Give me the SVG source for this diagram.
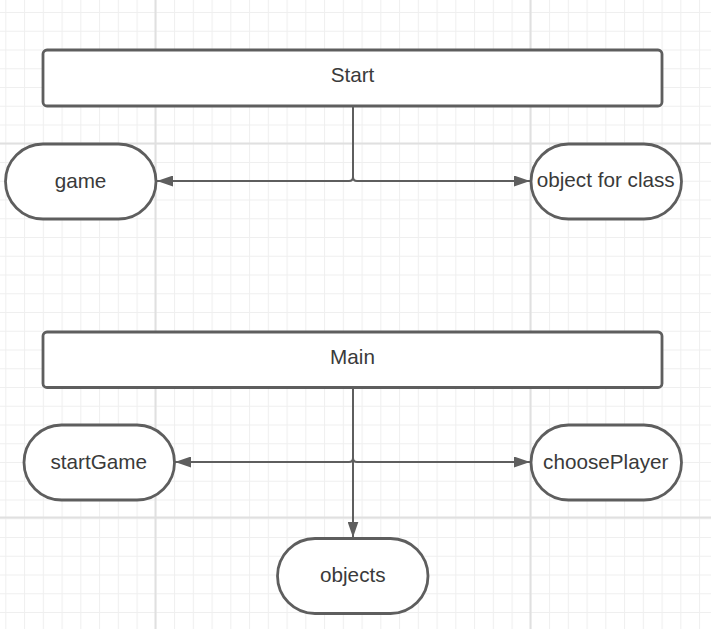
<svg xmlns="http://www.w3.org/2000/svg" width="711" height="629" viewBox="0 0 711 629">
  <style>
    .node { fill: #ffffff; stroke: #5e5e5e; stroke-width: 2.8; }
    .label { font-family: "Liberation Sans", Arial, sans-serif; font-size: 20.7px; fill: #3a3a3a; text-anchor: middle; }
    .conn { fill: none; stroke: #5e5e5e; stroke-width: 2; }
    .major { stroke: #e0e0e0; stroke-width: 2; }
  </style>
  <defs>
    <pattern id="grid" patternUnits="userSpaceOnUse" x="5.3" y="12" width="18.75" height="18.75">
      <path d="M0.5 0 V18.75 M0 0.5 H18.75" stroke="#efefef" stroke-width="1.2" fill="none"/>
    </pattern>
    <marker id="arrow" viewBox="0 0 16 11" refX="16" refY="5.5" markerWidth="16" markerHeight="11" markerUnits="userSpaceOnUse" orient="auto">
      <path d="M0 0 L16 5.5 L0 11 Z" fill="#5e5e5e"/>
    </marker>
  </defs>

  <rect width="711" height="629" fill="#ffffff"/>
  <rect width="711" height="629" fill="url(#grid)"/>
  <g id="grid-major">
    <line class="major" x1="155.5" y1="0" x2="155.5" y2="629"/>
    <line class="major" x1="530.5" y1="0" x2="530.5" y2="629"/>
    <line class="major" x1="0" y1="143.5" x2="711" y2="143.5"/>
    <line class="major" x1="0" y1="517.5" x2="711" y2="517.5"/>
  </g>

  <g id="connectors">
    <path class="conn" d="M353 106 V177 Q353 181 349 181 H157" marker-end="url(#arrow)"/>
    <path class="conn" d="M353 106 V177 Q353 181 357 181 H530" marker-end="url(#arrow)"/>
    <path class="conn" d="M353 388 V458 Q353 462 349 462 H175" marker-end="url(#arrow)"/>
    <path class="conn" d="M353 388 V458 Q353 462 357 462 H530" marker-end="url(#arrow)"/>
    <path class="conn" d="M353 388 V537.5" marker-end="url(#arrow)"/>
  </g>

  <g id="start">
    <rect class="node" x="43" y="50" width="619" height="56" rx="4"/>
    <text class="label" x="352.5" y="82">Start</text>
  </g>
  <g id="game">
    <rect class="node" x="5.5" y="144" width="150.5" height="75" rx="37.5"/>
    <text class="label" x="80.5" y="188">game</text>
  </g>
  <g id="object-for-class">
    <rect class="node" x="531" y="144" width="150.5" height="75" rx="37.5"/>
    <text class="label" x="605.7" y="187">object for class</text>
  </g>
  <g id="main">
    <rect class="node" x="43" y="332" width="619" height="55.5" rx="4"/>
    <text class="label" x="352.5" y="363.5">Main</text>
  </g>
  <g id="startGame">
    <rect class="node" x="24" y="425" width="150.5" height="75" rx="37.5"/>
    <text class="label" x="98.7" y="468.5">startGame</text>
  </g>
  <g id="choosePlayer">
    <rect class="node" x="531" y="425" width="150.5" height="75" rx="37.5"/>
    <text class="label" x="605.8" y="468.5">choosePlayer</text>
  </g>
  <g id="objects">
    <rect class="node" x="277.5" y="538.5" width="150.5" height="75" rx="37.5"/>
    <text class="label" x="352.8" y="582">objects</text>
  </g>
</svg>
